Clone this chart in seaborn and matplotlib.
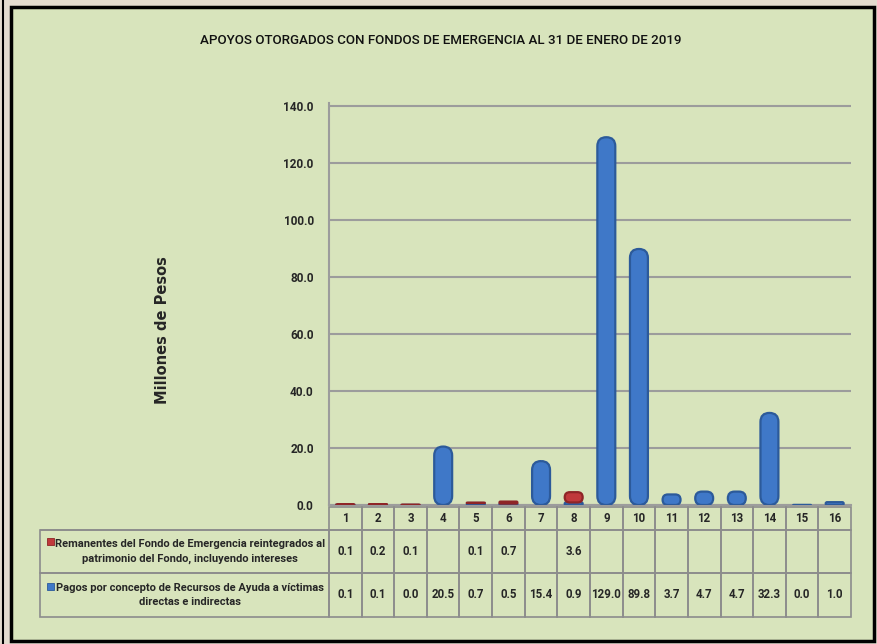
import numpy as np
import pandas as pd
import matplotlib
matplotlib.use("Agg")
import matplotlib.pyplot as plt
import seaborn as sns
from matplotlib.patches import FancyBboxPatch, Rectangle
from matplotlib.lines import Line2D
from matplotlib.ticker import FormatStrFormatter

# ---------------- data ----------------
categories = list(range(1, 17))
remanentes = [0.1, 0.2, 0.1, None, 0.1, 0.7, None, 3.6, None, None, None, None, None, None, None, None]
pagos = [0.1, 0.1, 0.0, 20.5, 0.7, 0.5, 15.4, 0.9, 129.0, 89.8, 3.7, 4.7, 4.7, 32.3, 0.0, 1.0]
yticks = [0, 20, 40, 60, 80, 100, 120, 140]
serie_rem = "Remanentes del Fondo de Emergencia reintegrados al\npatrimonio del Fondo, incluyendo intereses"
serie_pag = "Pagos por concepto de Recursos de Ayuda a víctimas\ndirectas e indirectas"
title = "APOYOS OTORGADOS CON FONDOS DE EMERGENCIA AL 31 DE ENERO DE 2019"
ylabel = "Millones de Pesos"

BLUE = "#3f78c8"
BLUE_EDGE = "#2c5a9a"
RED = "#c0393b"
RED_EDGE = "#8e2527"
PANEL = "#d8e4bc"
OUTER = "#e4dccf"
GRID = "#9c9c9c"

sns.set_style("white")
FONT = ["Roboto", "DejaVu Sans"]
plt.rcParams["font.family"] = FONT

W, H = 878, 644
fig = plt.figure(figsize=(W / 100, H / 100), dpi=100, facecolor=OUTER)

def px(x, y):
    return x / W, 1 - y / H

# panel
p0 = px(11, 641)
p1 = px(874, 7)
fig.add_artist(Rectangle(p0, p1[0] - p0[0], p1[1] - p0[1], transform=fig.transFigure,
                         facecolor=PANEL, edgecolor="black", linewidth=2.5, zorder=-2))
fig.add_artist(Line2D([3 / W, 3 / W], [0, 1], transform=fig.transFigure, color="black",
                      linewidth=1.5, zorder=-2))

ax_l, ax_r, ax_t, ax_b = 329, 851, 103, 505
ax = fig.add_axes([ax_l / W, (H - ax_b) / H, (ax_r - ax_l) / W, (ax_b - ax_t) / H])
ax.set_facecolor("none")

df = pd.DataFrame({
    "cat": categories * 2,
    "val": [0.0 if v is None else v for v in pagos] + [0.0 if v is None else v for v in remanentes],
    "serie": [serie_pag] * 16 + [serie_rem] * 16,
})

sns.histplot(data=df, x="cat", weights="val", hue="serie", hue_order=[serie_rem, serie_pag],
             multiple="stack", discrete=True, shrink=0.55, palette=[RED, BLUE], alpha=1,
             legend=False, ax=ax)

ax.set_xlim(0.5, 16.5)
ax.set_ylim(0, 141)

# rounded cylinder-like bars
xr = 16.0 / (ax_r - ax_l)
yr = 141.0 / (ax_b - ax_t)
aspect = yr / xr
for p in list(ax.patches):
    if not isinstance(p, Rectangle):
        continue
    x, y, w, h = p.get_x(), p.get_y(), p.get_width(), p.get_height()
    fc = p.get_facecolor()
    is_red = fc[0] > fc[2]
    p.remove()
    if is_red and h <= 0:
        continue
    r = min(w / 2, max(h / aspect / 2, 1e-4))
    fb = FancyBboxPatch((x, y), w, h, boxstyle=f"round,pad=0,rounding_size={r}",
                        mutation_aspect=aspect, facecolor=RED if is_red else BLUE,
                        edgecolor=RED_EDGE if is_red else BLUE_EDGE, linewidth=1.6,
                        zorder=4 if is_red else 3)
    ax.add_patch(fb)

ax.set_yticks(yticks)
ax.yaxis.set_major_formatter(FormatStrFormatter("%.1f"))
ax.set_xticks([])
ax.tick_params(axis="y", length=0, pad=11, labelsize=8.5)
for t in ax.get_yticklabels():
    t.set_fontweight("bold")
ax.grid(axis="y", color=GRID, linewidth=1.5, zorder=0)
ax.set_axisbelow(True)
for s in ["top", "right"]:
    ax.spines[s].set_visible(False)
for s in ["left", "bottom"]:
    ax.spines[s].set_color(GRID)
    ax.spines[s].set_linewidth(1.5)
ax.set_xlabel("")
ax.set_ylabel(ylabel, fontsize=10.5, fontweight="bold", family="DejaVu Sans")
ax.yaxis.set_label_coords((170 - ax_l) / (ax_r - ax_l), (ax_b - 330) / (ax_b - ax_t))

fig.text(0.502, 1 - 40 / H, title, ha="center", va="center", fontsize=9.6, color="#111111",
         fontweight="medium")

# ---------------- data table ----------------
fmt = lambda v: "" if v is None else f"{v:.1f}"
row_labels = ["\n".join("    " + ln for ln in s.split("\n")) for s in [serie_rem, serie_pag]]
cell_text = [[row_labels[0]] + [fmt(v) for v in remanentes],
             [row_labels[1]] + [fmt(v) for v in pagos]]
col_labels = [""] + [str(c) for c in categories]
t_left, t_right, t_top, t_bottom = 40, 851, 507, 617
aw = ax_r - ax_l
ah = ax_b - ax_t
rl_w = (ax_l - t_left) / aw
colw = (t_right - ax_l) / 16 / aw
bbox = [(t_left - ax_l) / aw, (ax_b - t_bottom) / ah, (t_right - t_left) / aw, (t_bottom - t_top) / ah]
tab = ax.table(cellText=cell_text, colLabels=col_labels, colWidths=[rl_w] + [colw] * 16,
               cellLoc="center", colLoc="center", bbox=bbox)
tab.auto_set_font_size(False)
heights = {0: 23 / ah, 1: 43 / ah, 2: 44 / ah}
for (r, c), cell in tab.get_celld().items():
    cell.set_edgecolor("#8c8c8c")
    cell.set_linewidth(1.2)
    cell.set_facecolor("none")
    cell.set_height(heights[r])
    cell.set_width(rl_w if c == 0 else colw)
    txt = cell.get_text()
    txt.set_fontweight("bold")
    if c == 0:
        txt.set_fontsize(8)
        txt.set_multialignment("center")
        txt.set_linespacing(1.55)
        if r == 0:
            cell.visible_edges = "B"
    else:
        txt.set_fontsize(8.3)

# legend keys in the table
for yk, col, ec in [(538, RED, RED_EDGE), (583, BLUE, BLUE_EDGE)]:
    a = px(47, yk + 7)
    fig.add_artist(Rectangle(a, 7 / W, 7 / H, transform=fig.transFigure, facecolor=col,
                             edgecolor=ec, linewidth=0.6, zorder=5))

fig.savefig("out.png", dpi=100, facecolor=OUTER)
